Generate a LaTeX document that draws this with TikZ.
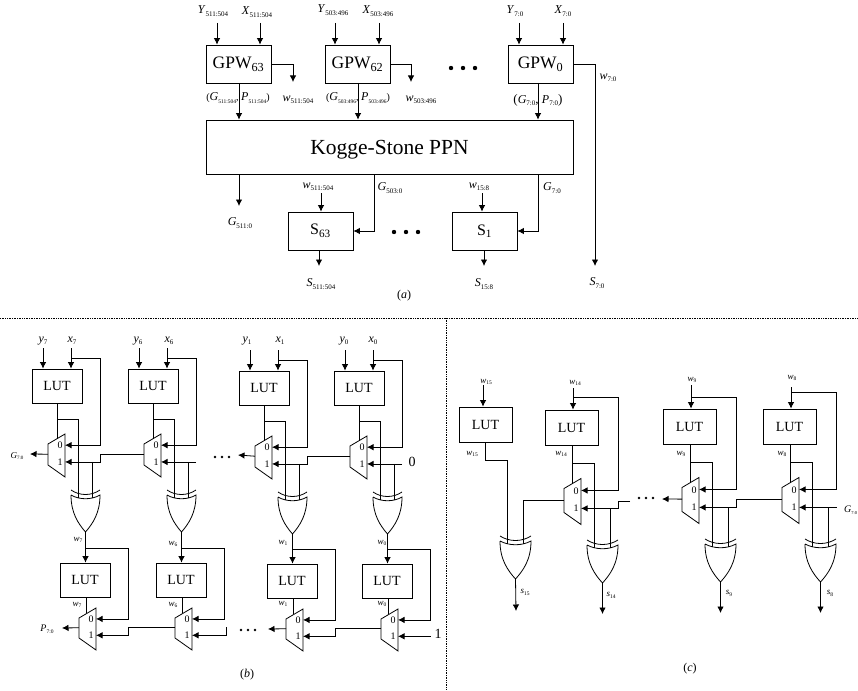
\documentclass[tikz,border=0pt]{standalone}
\usepackage{fontspec}
\setmainfont{Liberation Serif}
\usepackage{tikz}
\usetikzlibrary{arrows.meta}

\newcommand{\sig}[4]{{\fontsize{#1}{#1}\selectfont\textit{#3}\raisebox{-0.2em}{\fontsize{#2}{#2}\selectfont #4}}}
\newcommand{\siga}{\sig{12}{7}}
\newcommand{\sigb}{\sig{9}{5.5}}

% mux: name, right x, top y, height
\newcommand{\muxgate}[4]{
\coordinate (#1-o) at (#2-17,#3+0.47*#4);
\coordinate (#1-a) at (#2,#3+0.26*#4);
\coordinate (#1-b) at (#2,#3+0.65*#4);
\draw (#2,#3) -- (#2,#3+#4) -- (#2-17,#3+#4-12) -- (#2-17,#3+10) -- cycle;
\node[muxlab] (#1-l0) at (#2-5,#3+0.27*#4) {0};
\node[muxlab] (#1-l1) at (#2-5,#3+0.65*#4) {1};
}
% xor: name, left x, top y, width, height
\newcommand{\xorgate}[5]{
\coordinate (#1-a) at (#2+0.25*#4,#3+8);
\coordinate (#1-b) at (#2+0.75*#4,#3+8);
\coordinate (#1-o) at (#2+0.5*#4,#3+#5);
\draw (#2,#3) .. controls (#2+0.3*#4,#3+6) and (#2+0.7*#4,#3+6) .. (#2+#4,#3);
\draw (#2,#3+5) .. controls (#2+0.3*#4,#3+10) and (#2+0.7*#4,#3+10) .. (#2+#4,#3+5)
  .. controls (#2+#4,#3+0.55*#5) and (#2+0.75*#4,#3+0.8*#5) .. (#2+0.5*#4,#3+#5)
  .. controls (#2+0.25*#4,#3+0.8*#5) and (#2,#3+0.55*#5) .. (#2,#3+5);
}
% first row of (b): name, lut left, lut top
\newcommand{\gencell}[3]{
\node[lutbox] (lut#1) at (#2+25,#3+17) {LUT};
\muxgate{mux#1}{#2+33}{#3+65}{43}
\xorgate{xor#1}{#2+39}{#3+121}{29}{42}
\coordinate (iny#1) at (#2+11,#3-21);
\coordinate (inx#1) at (#2+39,#3-21);
\coordinate (fb#1) at (#2+68,#3-11);
\coordinate (br#1) at (#2+25,#3+50);
\coordinate (top#1) at (#2+25,#3+70);
\draw[->] (iny#1) -- (iny#1 |- lut#1.north);
\draw[->] (inx#1) -- (inx#1 |- lut#1.north);
\draw[->] (inx#1 |- fb#1) -- (fb#1) |- (mux#1-a);
\draw (lut#1.south) -- (top#1);
\draw (br#1) -| (xor#1-a);
\draw (xor#1-b |- mux#1-b) -- (xor#1-b);
}
% second row of (b): name, source xor, lut left, lut top
\newcommand{\propcell}[4]{
\node[lutbox] (lut#1) at (#3+25,#4+17) {LUT};
\muxgate{mux#1}{#3+36}{#4+45}{42}
\coordinate (fb#1) at (#3+68.5,#4-15);
\coordinate (top#1) at (#3+26,#4+50);
\draw[->] (#2-o) -- (#2-o |- lut#1.north);
\draw[->] (#2-o |- fb#1) -- (fb#1) |- (mux#1-a);
\draw (lut#1.south -| top#1) -- (top#1);
}
% cell of (c): name, lut left, lut top, feedback y, input top
\newcommand{\sumcell}[5]{
\node[lutboxc] (lut#1) at (#2+26.5,#3+17.5) {LUT};
\muxgate{mux#1}{#2+36}{#3+68.5}{46}
\xorgate{xor#1}{#2+42}{#3+130}{31}{43}
\coordinate (in#1) at (#2+28,#5);
\coordinate (fb#1) at (#2+73.5,#4);
\coordinate (br#1) at (#2+27,#3+53);
\coordinate (top#1) at (#2+27,#3+73);
\coordinate (end#1) at (#2+57.5,#3+204);
\draw[->] (in#1) -- (in#1 |- lut#1.north);
\draw[->] (in#1 |- fb#1) -- (fb#1) |- (mux#1-a);
\draw (br#1 |- lut#1.south) -- (top#1);
\draw (br#1) -| (xor#1-a);
\draw (xor#1-b |- mux#1-b) -- (xor#1-b);
\draw[->] (xor#1-o) -- (xor#1-o |- end#1);
}

\begin{document}
\begin{tikzpicture}[x=1pt,y=-1pt,line width=0.8pt,>={Latex[length=6.5pt,width=6.5pt]},
  gpwbox/.style={draw,minimum width=65pt,minimum height=38pt,inner sep=0pt,font=\fontsize{17.5}{17.5}\selectfont},
  sumbox/.style={draw,minimum width=65pt,minimum height=38pt,inner sep=0pt,font=\fontsize{16}{16}\selectfont},
  lutbox/.style={draw,minimum width=50pt,minimum height=34pt,inner sep=0pt,font=\fontsize{14}{14}\selectfont},
  lutboxc/.style={lutbox,minimum width=53pt,minimum height=35pt},
  muxlab/.style={inner sep=0pt,font=\fontsize{10}{10}\selectfont},
  sepline/.style={densely dotted,line width=0.7pt}]
\useasboundingbox (0,0) rectangle (858,690);

% (a)
\foreach \n/\cx/\ya/\xa/\wx/\bits in {63/238.5/217/260/293/511:504,62/357.5/335/379/411/503:496,0/540.5/519/563/595/7:0}{
\node[gpwbox] (gpw\n) at (\cx,64) {GPW\textsubscript{\n}};
\coordinate (iny\n) at (\ya,23);
\coordinate (inx\n) at (\xa,23);
\coordinate (wout\n) at (\wx,82);
\draw[->] (iny\n) -- (iny\n |- gpw\n.north);
\draw[->] (inx\n) -- (inx\n |- gpw\n.north);
}
\node (ly63) at (213,11) {\siga{Y}{511:504}};
\node (lx63) at (257,12) {\siga{X}{511:504}};
\node (ly62) at (333,10) {\siga{Y}{503:496}};
\node (lx62) at (378,11) {\siga{X}{503:496}};
\node (ly0) at (515,11) {\siga{Y}{7:0}};
\node (lx0) at (563,11) {\siga{X}{7:0}};
\node[minimum width=367pt,minimum height=54pt,draw,inner sep=0pt,text depth=0pt,font=\fontsize{21.5}{21.5}\selectfont] (ppn) at (389.5,147) {Kogge-Stone PPN};
\coordinate (wend) at (595,266);
\draw[->] (gpw63.east) -| (wout63);
\draw[->] (gpw62.east) -| (wout62);
\draw[->] (gpw0.east) -| (wend);
\coordinate (pg63) at (239,83);
\coordinate (pg62) at (358,83);
\coordinate (pg0) at (538,83);
\draw[->] (pg63) -- (pg63 |- ppn.north);
\draw[->] (pg62) -- (pg62 |- ppn.north);
\draw[->] (pg0) -- (pg0 |- ppn.north);
\node (lpg63) at (238,98) {(\sig{12}{5.5}{G}{511:504}, \sig{12}{5.5}{P}{511:504})};
\node (lpg62) at (358,98) {(\sig{12}{5.5}{G}{503:496}, \sig{12}{5.5}{P}{503:496})};
\node (lpg0) at (538,100) {\fontsize{13}{13}\selectfont(\sig{12}{7}{G}{7:0}, \sig{12}{7}{P}{7:0})};
\node (lw63) at (298,100) {\siga{w}{511:504}};
\node (lw62) at (421,100) {\siga{w}{503:496}};
\node (lw0) at (608,78) {\siga{w}{7:0}};
\fill (451,68) circle (2.2pt) (463,68) circle (2.2pt) (475,68) circle (2.2pt);

\node[sumbox] (s63) at (320.5,231) {S\textsubscript{63}};
\node[sumbox] (s1) at (484.5,231) {S\textsubscript{1}};
\coordinate (g511) at (239,174);
\coordinate (g503) at (374,174);
\coordinate (g7) at (538,174);
\coordinate (gend) at (239,206);
\draw[->] (g511) -- (gend);
\draw[->] (g503) |- (s63.east);
\draw[->] (g7) |- (s1.east);
\coordinate (ws63) at (321,193);
\coordinate (ws1) at (482,193);
\coordinate (so63) at (319,266);
\coordinate (so1) at (484,266);
\draw[->] (ws63) -- (ws63 |- s63.north);
\draw[->] (ws1) -- (ws1 |- s1.north);
\draw[->] (so63 |- s63.south) -- (so63);
\draw[->] (so1 |- s1.south) -- (so1);
\node (lg511) at (240,223) {\siga{G}{511:0}};
\node (lg503) at (390,188) {\siga{G}{503:0}};
\node (lg7) at (552,188) {\siga{G}{7:0}};
\node (lws63) at (318,187) {\siga{w}{511:504}};
\node (lws1) at (479,187) {\siga{w}{15:8}};
\node (ls63) at (321,284) {\siga{S}{511:504}};
\node (ls1) at (484,284) {\siga{S}{15:8}};
\node (ls0) at (597,283) {\siga{S}{7:0}};
\fill (394,232) circle (2.2pt) (406,232) circle (2.2pt) (418,232) circle (2.2pt);
\node[font=\fontsize{12}{12}\selectfont] (capa) at (404,296) {(\textit{a})};

\coordinate (sepl) at (0,318);
\coordinate (sepr) at (858,318);
\coordinate (sept) at (446,318);
\coordinate (sepb) at (446,690);
\draw[sepline] (sepl) -- (sepr);
\draw[sepline] (sept) -- (sepb);

% (b)
\gencell{7}{32}{369}
\gencell{6}{128}{369}
\gencell{1}{239}{371}
\gencell{0}{334}{371}
\foreach \n/\ya/\xa/\lev in {7/43/72/341,6/138/169/341,1/247/280/341,0/344/373/341}{
\node (ly\n) at (\ya,\lev) {\sig{12}{7}{y}{\n}};
\node (lx\n) at (\xa,\lev) {\sig{12}{7}{x}{\n}};
}
\draw[->] (mux6-o) -- (mux6-o -| fb7) |- (mux7-b);
\draw[->] (mux0-o) -- (mux0-o -| fb1) |- (mux1-b);
\draw[->] (fb6 |- mux6-b) -- (mux6-b);
\draw[->] (fb0 |- mux0-b) -- (mux0-b);
\node[font=\fontsize{14}{14}\selectfont] (zero) at (412,462) {0};
\coordinate (gout) at (30,454);
\coordinate (gnext) at (238,455);
\draw[->] (mux7-o) -- (gout);
\draw[->] (mux1-o) -- (gnext);
\node (lgout) at (17,456) {\sig{9}{5}{G}{7:0}};
\fill (215,457) circle (1.4pt) (222,457) circle (1.4pt) (229,457) circle (1.4pt);

\propcell{p7}{xor7}{60}{563}
\propcell{p6}{xor6}{156}{563}
\propcell{p1}{xor1}{267}{564}
\propcell{p0}{xor0}{362}{564}
\foreach \n/\xa/\xb/\ya/\yb in {7/78/77/540/605,6/173/173/544/605,1/283/283/543/604,0/382/382/543/604}{
\node (lwa\n) at (\xa,\ya) {\sigb{w}{\n}};
\node (lwb\n) at (\xb,\yb) {\sigb{w}{\n}};
}
\coordinate (stub) at (226,627);
\draw[->] (muxp6-o) -- (muxp6-o -| fbp7) |- (muxp7-b);
\draw[->] (muxp0-o) -- (muxp0-o -| fbp1) |- (muxp1-b);
\draw[->] (stub) |- (muxp6-b);
\node[font=\fontsize{14}{14}\selectfont] (one) at (438,634) {1};
\draw[->] (one.west |- muxp0-b) -- (muxp0-b);
\coordinate (pout) at (62,628);
\coordinate (pnext) at (268,629);
\draw[->] (muxp7-o) -- (pout);
\draw[->] (muxp1-o) -- (pnext);
\node (lpout) at (47,629) {\sig{10}{5.5}{P}{7:0}};
\fill (241,630) circle (1.4pt) (248,630) circle (1.4pt) (255,630) circle (1.4pt);
\node[font=\fontsize{12}{12}\selectfont] (capb) at (247,675) {(\textit{b})};

% (c)
\node[lutboxc] (lut15) at (485.5,424.5) {LUT};
\xorgate{xor15}{500}{536}{31}{43}
\coordinate (in15) at (483,385);
\coordinate (br15) at (485,460);
\coordinate (end15) at (516,611);
\draw[->] (in15) -- (in15 |- lut15.north);
\draw (br15 |- lut15.south) -- (br15) -| (xor15-a);
\draw[->] (xor15-o) -- (end15);
\sumcell{14}{545}{410}{397}{388}
\sumcell{9}{663}{409}{397}{385}
\sumcell{8}{763}{409}{392}{387}
\draw (mux14-o) -| (xor15-b);
\coordinate (stubc) at (630,501);
\draw[->] (stubc) -- (stubc -| fb14) |- (mux14-b);
\coordinate (cnext) at (662,499);
\draw[->] (mux9-o) -- (cnext);
\draw[->] (mux8-o) -- (mux8-o -| fb9) |- (mux9-b);
\draw[->] (fb8 |- mux8-b) -- (mux8-b);
\fill (639,498) circle (1.4pt) (646,498) circle (1.4pt) (653,498) circle (1.4pt);
\node[anchor=east,inner sep=0pt] (lg8) at (857.5,510) {\sig{10}{4.5}{G}{7:0}};
\foreach \n/\xa/\ya/\xb/\xs/\ys in {15/486/382/472/525/592,14/575/383/561/611/595,9/692/380/681/729/593,8/792/378/782/830/593}{
\node (lwt\n) at (\xa,\ya) {\sigb{w}{\n}};
\node (lwo\n) at (\xb,454) {\sigb{w}{\n}};
\node (lso\n) at (\xs,\ys) {\sigb{s}{\n}};
}
\node[font=\fontsize{12}{12}\selectfont] (capc) at (690,669) {(\textit{c})};
\end{tikzpicture}
\end{document}
